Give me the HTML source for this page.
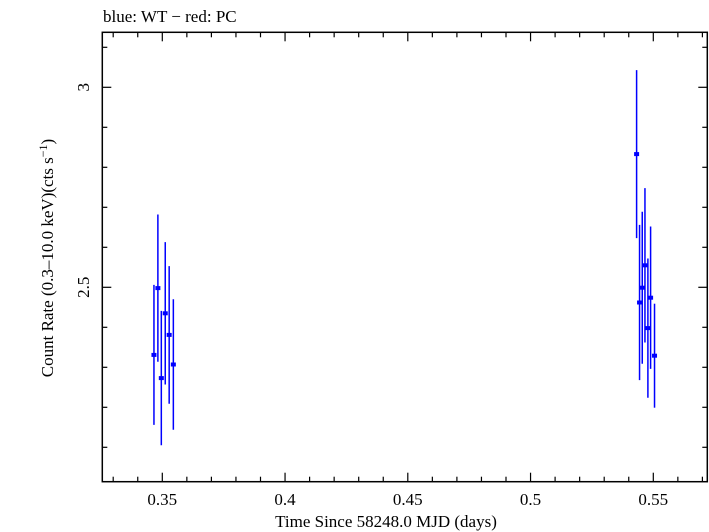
<!DOCTYPE html>
<html><head><meta charset="utf-8"><style>
html,body{margin:0;padding:0;background:#fff;}
svg{display:block;font-family:"Liberation Serif",serif;}
</style></head><body>
<svg id="chart" width="709" height="532" xmlns="http://www.w3.org/2000/svg">
<text x="103" y="22" font-size="17">blue: WT − red: PC</text>
<rect x="102.3" y="32.3" width="605" height="449.4" fill="none" stroke="#000" stroke-width="1.5"/>
<g id="ticks"></g>
<g id="marks"></g>
<text x="386" y="527" font-size="17" text-anchor="middle">Time Since 58248.0 MJD (days)</text>
<text transform="translate(53,258) rotate(-90)" font-size="17" text-anchor="middle">Count Rate (0.3–10.0 keV)(cts s<tspan dy="-6" font-size="12">−1</tspan><tspan dy="6">)</tspan></text>
</svg>
<script>
const times=[0.3466,0.3482,0.3496,0.3512,0.3528,0.3545,0.5432,0.5444,0.5455,0.5466,0.5478,0.5489,0.5505];
const rates=[2.331,2.498,2.273,2.435,2.381,2.307,2.833,2.462,2.499,2.555,2.398,2.474,2.329];
const errs=[0.175,0.184,0.168,0.178,0.172,0.163,0.21,0.194,0.19,0.193,0.174,0.178,0.13];
const xTicks=["0.35","0.4","0.45","0.5","0.55"];
const yTicks=["2.5","3"];
const NS="http://www.w3.org/2000/svg";
const L=102.3,R=707.3,T=32.3,B=481.7;
function xs(v){return 162.3+(v-0.35)*2455;}
function ys(v){return 87.3-(v-3)*400;}
const tg=document.getElementById('ticks'),mg=document.getElementById('marks');
function mk(tag,attrs,parent){const e=document.createElementNS(NS,tag);for(const k in attrs)e.setAttribute(k,attrs[k]);parent.appendChild(e);return e;}
// x ticks
for(let i=0;i<=25;i++){const v=0.33+i*0.01;const x=xs(v);if(x<L||x>R)continue;
 const major=Math.abs((v*100)%5)<0.01||Math.abs((v*100)%5-5)<0.01;const len=major?9:5;
 const t1=mk('line',{x1:x,x2:x,y1:B,y2:B-len,stroke:'#000','stroke-width':1.2},tg);
 
 
 const t2=mk('line',{x1:x,x2:x,y1:T,y2:T+len,stroke:'#000','stroke-width':1.2},tg);
 
 }
xTicks.forEach(s=>{const t=mk('text',{x:xs(parseFloat(s)),y:505,'font-size':17,'text-anchor':'middle'},tg);t.textContent=s;
 
 });
// y ticks
for(let i=0;i<=12;i++){const v=2.0+i*0.1;const y=ys(v);if(y<T||y>B)continue;
 const major=(i%5===0);const len=major?9:5;
 const t1=mk('line',{x1:L,x2:L+len,y1:y,y2:y,stroke:'#000','stroke-width':1.2},tg);
 
 
 const t2=mk('line',{x1:R,x2:R-len,y1:y,y2:y,stroke:'#000','stroke-width':1.2},tg);
 
 }
yTicks.forEach(s=>{const y=ys(parseFloat(s));const t=mk('text',{transform:`translate(89,${y}) rotate(-90)`,'font-size':17,'text-anchor':'middle'},tg);t.textContent=s;
 
 });
// data
times.forEach((tv,i)=>{const x=xs(tv),y=ys(rates[i]);
 const e=mk('line',{x1:x,x2:x,y1:ys(rates[i]+errs[i]),y2:ys(rates[i]-errs[i]),stroke:'#0000ff','stroke-width':1.5},mg);
 
 
 const p=mk('rect',{x:x-2.5,y:y-2,width:5,height:4,fill:'#0000ff'},mg);
 
 });
</script>
</body></html>
